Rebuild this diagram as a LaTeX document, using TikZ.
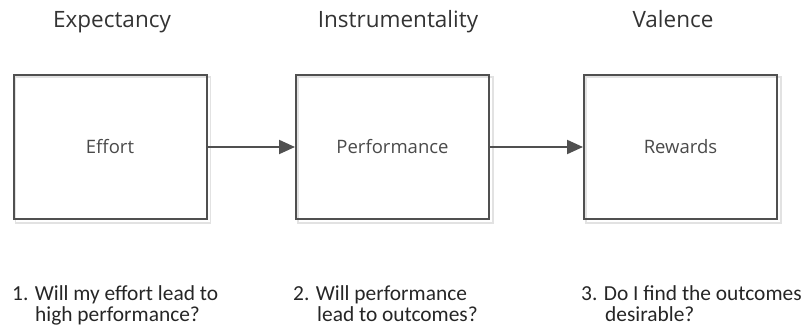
\documentclass[tikz,border=0pt]{standalone}
\usepackage{fontspec}
\newfontfamily\labelfont{Open Sans}
\newfontfamily\qfont{Carlito}
\usetikzlibrary{arrows.meta,backgrounds}
\definecolor{boxline}{HTML}{505050}
\definecolor{boxtext}{HTML}{4A4A4A}
\definecolor{headtext}{HTML}{333333}
\definecolor{qtext}{HTML}{262626}
\definecolor{shadowgray}{HTML}{E2E2E2}
\begin{document}
\begin{tikzpicture}[x=1pt,y=-1pt,
  stage/.style={draw=boxline,line width=2pt,minimum width=193pt,minimum height=144pt,inner sep=0pt,
    font=\labelfont\fontsize{18.5}{22}\selectfont,text=boxtext},
  heading/.style={anchor=base,inner sep=0pt,font=\labelfont\fontsize{22.5}{27}\selectfont,text=headtext},
  question/.style={anchor=north west,inner sep=0pt,align=left,font=\qfont\fontsize{21.4}{21}\selectfont,text=qtext},
  flow/.style={draw=boxline,line width=2pt,-{Triangle[length=16pt,width=14pt]}},
  shade/.style={draw=shadowgray,line width=1.5pt}]
\useasboundingbox (0,0) rectangle (803,331);

\node[heading] (h1) at (112,28) {Expectancy};
\node[heading] (h2) at (398,28) {Instrumentality};
\node[heading] (h3) at (673,28) {Valence};

\node[stage] (e) at (110,147) {Effort};
\node[stage] (p) at (392.5,147) {Performance};
\node[stage] (r) at (680.5,147) {Rewards};

\begin{scope}[on background layer]
  \foreach \b in {e,p,r}
    \draw[shade] ([shift={(3,3)}]\b.north west) rectangle ([shift={(3,3)}]\b.south east);
\end{scope}

\draw[flow] (e.east) -- (p.west);
\draw[flow] (p.east) -- (r.west);

\node[question] (q1) at (12,285) {1. Will my effort lead to\\\hspace*{23pt}high performance?};
\node[question] (q2) at (293,285) {2. Will performance\\\hspace*{24pt}lead to outcomes?};
\node[question] (q3) at (581,285) {3. Do I find the outcomes\\\hspace*{24pt}desirable?};
\end{tikzpicture}
\end{document}
